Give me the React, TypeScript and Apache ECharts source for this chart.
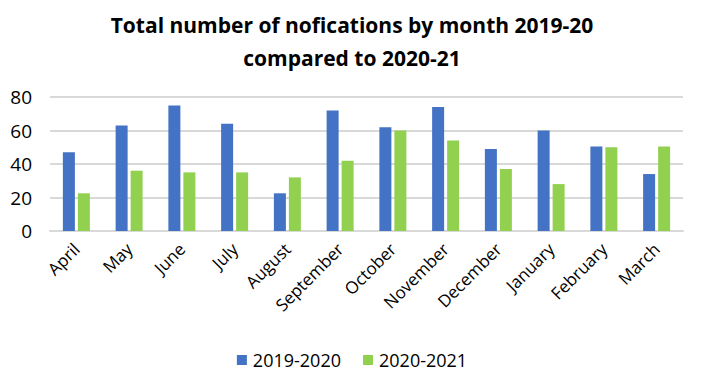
import React, { useEffect, useRef } from "react";
import * as echarts from "echarts";

const months = ["April", "May", "June", "July", "August", "September", "October", "November", "December", "January", "February", "March"];
const series2019 = [47, 63, 75, 64, 22.5, 72, 62, 74, 49, 60, 50.5, 34];
const series2020 = [22.5, 36, 35, 35, 32, 42, 60, 54, 37, 28, 50, 50.5];
const yTicks = [0, 20, 40, 60, 80];

const FONT = "'Open Sans', 'Noto Sans', sans-serif";

export default function App() {
  const ref = useRef<HTMLDivElement>(null);
  useEffect(() => {
    if (!ref.current) return;
    const chart = echarts.init(ref.current, null, { renderer: "svg" });
    chart.setOption({
      animation: false,
      backgroundColor: "#ffffff",
      title: {
        text: "Total number of nofications by month 2019-20\ncompared to 2020-21",
        left: "center",
        top: 3,
        textStyle: { fontFamily: FONT, fontWeight: "bold", fontSize: 21, lineHeight: 33, color: "#000000" },
      },
      legend: {
        bottom: 16,
        left: "center",
        itemWidth: 10,
        itemHeight: 10,
        itemGap: 22,
        icon: "rect",
        textStyle: { fontFamily: FONT, fontSize: 18, color: "#000000", padding: [0, 0, 0, 1] },
        data: ["2019-2020", "2020-2021"],
      },
      grid: { left: 50, right: 21, top: 97, bottom: 159, containLabel: false },
      xAxis: {
        type: "category",
        data: months,
        axisLine: { lineStyle: { color: "#d9d9d9", width: 2 } },
        axisTick: { show: false },
        axisLabel: { rotate: 45, interval: 0, fontFamily: FONT, fontSize: 17, color: "#000000", margin: 15 },
      },
      yAxis: {
        type: "value",
        min: yTicks[0],
        max: yTicks[yTicks.length - 1],
        interval: 20,
        axisLine: { show: false },
        axisTick: { show: false },
        splitLine: { lineStyle: { color: "#d9d9d9", width: 2 } },
        axisLabel: { fontFamily: FONT, fontSize: 19, color: "#000000", margin: 18 },
      },
      series: [
        { name: "2019-2020", type: "bar", data: series2019, barWidth: 12, barGap: "25%", itemStyle: { color: "#4472c4" } },
        { name: "2020-2021", type: "bar", data: series2020, barWidth: 12, itemStyle: { color: "#92d050" } },
      ],
    });
    return () => chart.dispose();
  }, []);
  return <div ref={ref} style={{ width: 704, height: 390, position: "absolute", left: 0, top: 0 }} />;
}
